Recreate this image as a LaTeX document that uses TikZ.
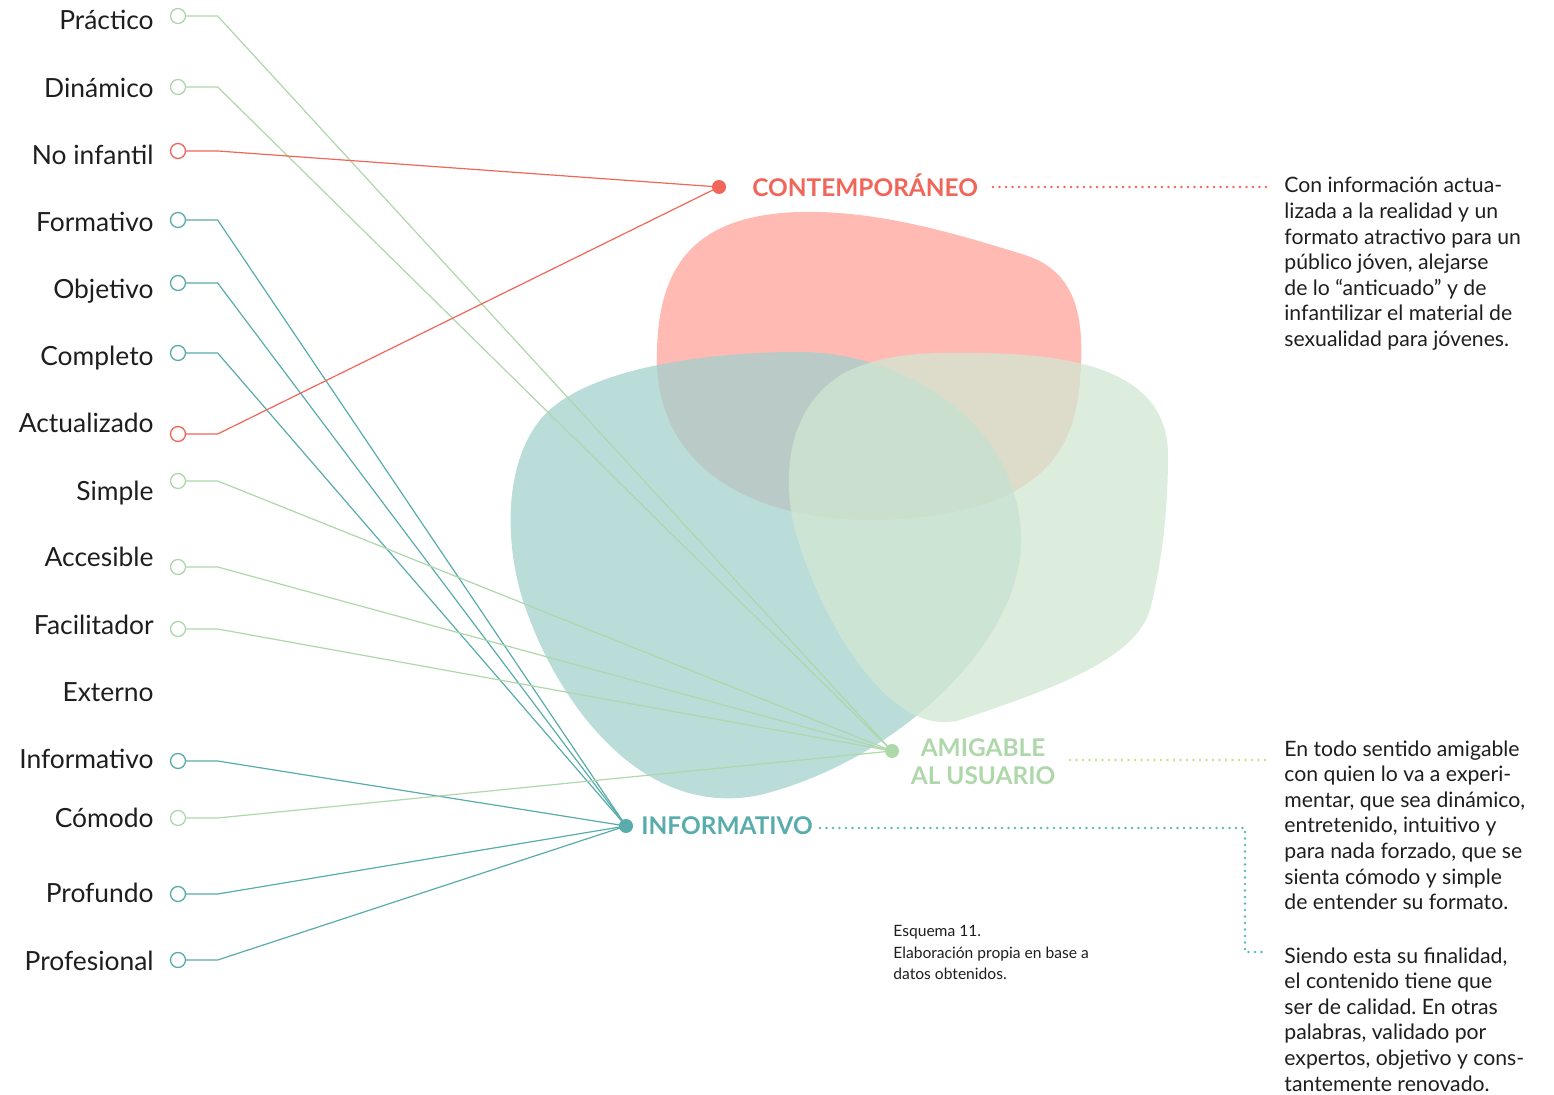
\documentclass[tikz,border=0pt]{standalone}
\usepackage{fontspec}
\setmainfont{Lato}
\frenchspacing
\definecolor{red}{HTML}{F0665A}
\definecolor{gcol}{HTML}{AED7AA}
\definecolor{teal}{HTML}{58ACAB}
\definecolor{txt}{HTML}{1E1E1E}
\definecolor{pinkb}{HTML}{FFBAB4}
\definecolor{tealb}{HTML}{A3D1CE}
\definecolor{greenb}{HTML}{D2E7D2}
\definecolor{ydot}{HTML}{C4E184}
\definecolor{cdot}{HTML}{5CB6C2}
\begin{document}
\begin{tikzpicture}[x=0.5pt,y=-0.5pt,
  lbl/.style={anchor=base east, inner sep=0, font=\fontsize{13.2}{15}\selectfont, text=txt},
  ring/.style={circle, draw=#1, line width=0.65pt, fill=white, minimum size=7.5pt, inner sep=0},
  hubdot/.style={circle, fill=#1, minimum size=7pt, inner sep=0},
  conn/.style={draw=#1, line width=0.6pt},
  hubtxt/.style={font=\bfseries\fontsize{12.2}{14}\selectfont, text=#1, inner sep=0},
  dotline/.style={draw=#1, line width=1.3pt, line cap=round, dash pattern=on 0pt off 3.25pt},
  para/.style={anchor=north west, align=left, inner sep=0, font=\fontsize{10.6}{12.8}\selectfont, text=txt},
  capt/.style={anchor=north west, align=left, inner sep=0, font=\fontsize{7.8}{10.75}\selectfont, text=txt}]
\useasboundingbox (0,0) rectangle (1554,1095);

% blobs
\fill[pinkb] (657,365) .. controls (655,270) and (690,215) .. (800,212)
  .. controls (880,210) and (960,235) .. (1025,255)
  .. controls (1078,272) and (1085,320) .. (1080,380)
  .. controls (1075,460) and (1030,515) .. (880,520)
  .. controls (740,522) and (660,460) .. (657,365) -- cycle;
\fill[tealb, opacity=0.75] (800,352) .. controls (900,352) and (1020,420) .. (1021,540)
  .. controls (1022,640) and (900,760) .. (760,795)
  .. controls (640,820) and (560,700) .. (530,620)
  .. controls (505,560) and (500,470) .. (540,420)
  .. controls (580,370) and (700,352) .. (800,352) -- cycle;
\fill[greenb, opacity=0.75] (950,353) .. controls (1050,352) and (1168,360) .. (1168,455)
  .. controls (1168,520) and (1160,570) .. (1150,610)
  .. controls (1135,660) and (1050,690) .. (960,720)
  .. controls (890,740) and (820,620) .. (795,530)
  .. controls (780,470) and (790,400) .. (850,370)
  .. controls (880,357) and (910,353) .. (950,353) -- cycle;

% hubs
\node[hubdot=red] (cont) at (719,187) {};
\node[hubdot=gcol] (amig) at (892,751) {};
\node[hubdot=teal] (info) at (626,826) {};

% left labels
\node[lbl] (l1) at (154,30) {Práctico};
\node[lbl] (l2) at (154,98) {Dinámico};
\node[lbl] (l3) at (154,165) {No infantil};
\node[lbl] (l4) at (154,232) {Formativo};
\node[lbl] (l5) at (154,299) {Objetivo};
\node[lbl] (l6) at (154,366) {Completo};
\node[lbl] (l7) at (154,433) {Actualizado};
\node[lbl] (l8) at (154,501) {Simple};
\node[lbl] (l9) at (154,567) {Accesible};
\node[lbl] (l10) at (154,635) {Facilitador};
\node[lbl] (l11) at (154,702) {Externo};
\node[lbl] (l12) at (154,769) {Informativo};
\node[lbl] (l13) at (154,828) {Cómodo};
\node[lbl] (l14) at (154,903) {Profundo};
\node[lbl] (l15) at (154,971) {Profesional};

% rings
\node[ring=gcol] (c1) at (178,16) {};
\node[ring=gcol] (c2) at (178,87) {};
\node[ring=red] (c3) at (178,151) {};
\node[ring=teal] (c4) at (178,220) {};
\node[ring=teal] (c5) at (178,283) {};
\node[ring=teal] (c6) at (178,353) {};
\node[ring=red] (c7) at (178,434) {};
\node[ring=gcol] (c8) at (178,481) {};
\node[ring=gcol] (c9) at (178,567) {};
\node[ring=gcol] (c10) at (178,629) {};
\node[ring=teal] (c12) at (178,761) {};
\node[ring=gcol] (c13) at (178,818) {};
\node[ring=teal] (c14) at (178,894) {};
\node[ring=teal] (c15) at (178,960) {};

% connectors
\draw[conn=gcol] (c1.east) -- ++(31.5,0) -- (amig.center);
\draw[conn=gcol] (c2.east) -- ++(31.5,0) -- (amig.center);
\draw[conn=red] (c3.east) -- ++(31.5,0) -- (cont.center);
\draw[conn=teal] (c4.east) -- ++(31.5,0) -- (info.center);
\draw[conn=teal] (c5.east) -- ++(31.5,0) -- (info.center);
\draw[conn=teal] (c6.east) -- ++(31.5,0) -- (info.center);
\draw[conn=red] (c7.east) -- ++(31.5,0) -- (cont.center);
\draw[conn=gcol] (c8.east) -- ++(31.5,0) -- (amig.center);
\draw[conn=gcol] (c9.east) -- ++(31.5,0) -- (amig.center);
\draw[conn=gcol] (c10.east) -- ++(31.5,0) -- (amig.center);
\draw[conn=teal] (c12.east) -- ++(31.5,0) -- (info.center);
\draw[conn=gcol] (c13.east) -- ++(31.5,0) -- (amig.center);
\draw[conn=teal] (c14.east) -- ++(31.5,0) -- (info.center);
\draw[conn=teal] (c15.east) -- ++(31.5,0) -- (info.center);

% hub labels
\node[hubtxt=red, anchor=base west] (tcont) at (752,197) {CONTEMPORÁNEO};
\node[hubtxt=gcol, anchor=north, align=center] (tamig) at (983,738) {AMIGABLE\\AL USUARIO};
\node[hubtxt=teal, anchor=base west] (tinfo) at (641,835) {INFORMATIVO};

% paragraphs
\node[para] (p1) at (1284,177) {Con información actua-\\lizada a la realidad y un\\formato atractivo para un\\público jóven, alejarse\\de lo “anticuado” y de\\infantilizar el material de\\sexualidad para jóvenes.};
\node[para] (p2) at (1284,740) {En todo sentido amigable\\con quien lo va a experi-\\mentar, que sea dinámico,\\entretenido, intuitivo y\\para nada forzado, que se\\sienta cómodo y simple\\de entender su formato.};
\node[para] (p3) at (1284,947) {Siendo esta su finalidad,\\el contenido tiene que\\ser de calidad. En otras\\palabras, validado por\\expertos, objetivo y cons-\\tantemente renovado.};
\node[capt] (cap) at (893,925) {Esquema 11.\\Elaboración propia en base a\\datos obtenidos.};

% dotted leaders
\coordinate (d1) at (1268,187);
\coordinate (d2) at (1268,760);
\coordinate (d3a) at (1245,828);
\coordinate (d3b) at (1245,952);
\coordinate (d3) at (1268,952);
\draw[dotline=red] (993,187) -- (d1);
\draw[dotline=ydot] (1070,760) -- (d2);
\draw[dotline=cdot] (820,828) -- (d3a) -- (d3b) -- (d3);
\end{tikzpicture}
\end{document}
